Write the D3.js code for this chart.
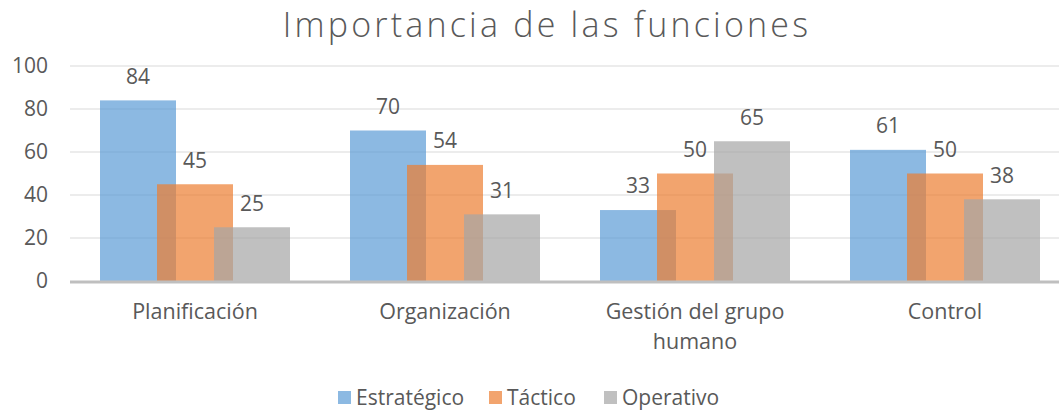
<!DOCTYPE html>
<html>
<head>
<meta charset="utf-8">
<script src="https://cdn.jsdelivr.net/npm/d3@7"></script>
<style>
  body { margin: 0; background: #fff; }
  text { font-family: "Open Sans", sans-serif; fill: #595959; }
</style>
</head>
<body>
<div id="chart"></div>
<script>
var categories = ["Planificación", "Organización", "Gestión del grupo humano", "Control"];
var categoryLines = [["Planificación"], ["Organización"], ["Gestión del grupo", "humano"], ["Control"]];
var seriesNames = ["Estratégico", "Táctico", "Operativo"];
var estrategico = [84, 70, 33, 61];
var tactico = [45, 54, 50, 50];
var operativo = [25, 31, 65, 38];
var yTicks = [0, 20, 40, 60, 80, 100];
var colors = ["#5B9BD5", "#ED7D31", "#A5A5A5"];

var width = 1059, height = 412;
var svg = d3.select("#chart").append("svg").attr("width", width).attr("height", height);

var x = d3.scaleBand().domain(categories).range([70, 1070]);
var y = d3.scaleLinear().domain([0, 100]).range([281, 66]);

var barW = 76, step = 57;

// gridlines
svg.selectAll(".grid").data(yTicks.slice(1)).enter().append("line")
    .attr("x1", 70).attr("x2", width)
    .attr("y1", function(d) { return y(d); }).attr("y2", function(d) { return y(d); })
    .attr("stroke", "#ececec").attr("stroke-width", 2);

// y tick labels
svg.selectAll(".ytick").data(yTicks).enter().append("text")
    .attr("x", 48).attr("y", function(d) { return y(d); })
    .attr("dy", "0.35em").attr("text-anchor", "end")
    .style("font-size", "21px")
    .text(function(d) { return d; });

var series = [estrategico, tactico, operativo];

series.forEach(function(vals, s) {
    var g = svg.append("g");
    g.selectAll("rect").data(vals).enter().append("rect")
        .attr("x", function(d, i) { return x(categories[i]) + x.bandwidth() / 2 - 95 + s * step; })
        .attr("y", function(d) { return y(d); })
        .attr("width", barW)
        .attr("height", function(d) { return y(0) - y(d); })
        .attr("fill", colors[s]).attr("fill-opacity", 0.7);
});

series.forEach(function(vals, s) {
    svg.append("g").selectAll("text").data(vals).enter().append("text")
        .attr("x", function(d, i) { return x(categories[i]) + x.bandwidth() / 2 - 95 + s * step + barW / 2; })
        .attr("y", function(d) { return y(d) - 24; })
        .attr("dy", "0.35em").attr("text-anchor", "middle")
        .style("font-size", "21px")
        .text(function(d) { return d; });
});

// axis line
svg.append("line").attr("x1", 70).attr("x2", width)
    .attr("y1", y(0) + 1).attr("y2", y(0) + 1)
    .attr("stroke", "#bfbfbf").attr("stroke-width", 3);

// category labels
categoryLines.forEach(function(lines, i) {
    var t = svg.append("text")
        .attr("text-anchor", "middle")
        .style("font-size", "21.5px");
    lines.forEach(function(l, k) {
        t.append("tspan").attr("x", x(categories[i]) + x.bandwidth() / 2)
            .attr("y", 319 + k * 30).text(l);
    });
});

// title
svg.append("text").attr("x", 547).attr("y", 37)
    .attr("text-anchor", "middle")
    .style("font-size", "34px").style("font-weight", 300)
    .style("letter-spacing", "3.2px")
    .text("Importancia de las funciones");

// legend
var legX = [338, 489, 604];
var leg = svg.selectAll(".leg").data(seriesNames).enter().append("g")
    .attr("transform", function(d, i) { return "translate(" + legX[i] + ",398)"; });
leg.append("rect").attr("x", 0).attr("y", -7).attr("width", 13).attr("height", 13)
    .attr("fill", function(d, i) { return colors[i]; }).attr("fill-opacity", 0.7);
leg.append("text").attr("x", 18).attr("dy", "0.35em")
    .style("font-size", "21px").text(function(d) { return d; });
</script>
</body>
</html>
